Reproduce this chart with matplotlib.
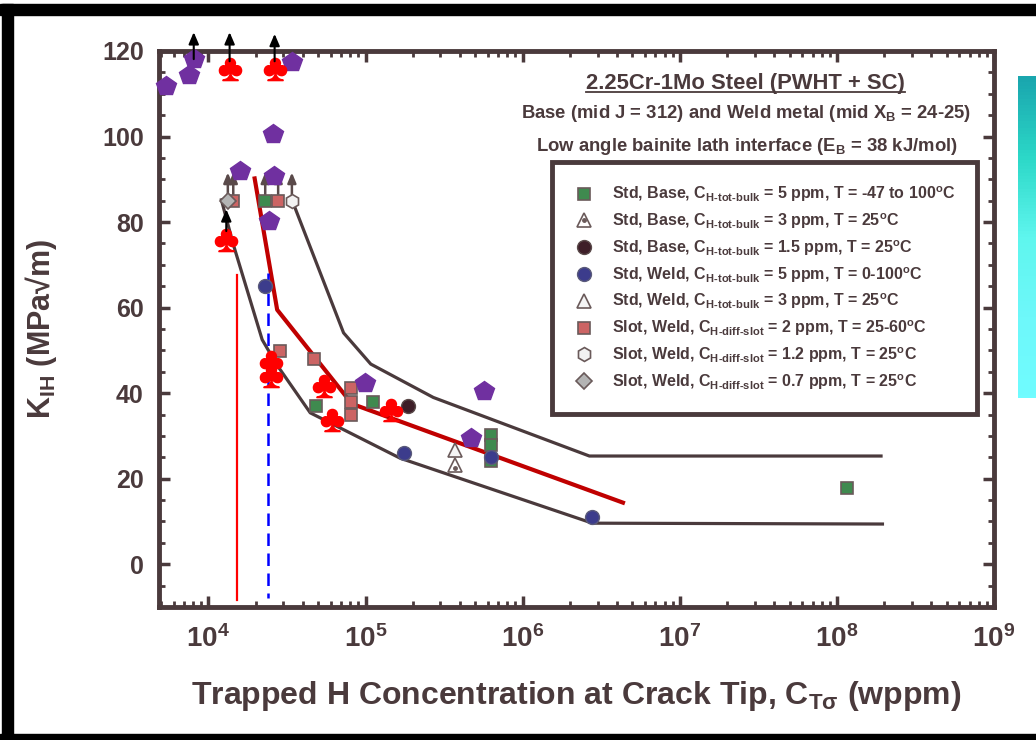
import matplotlib
matplotlib.use('Agg')
import numpy as np
import matplotlib.pyplot as plt
import matplotlib.ticker as mticker
from matplotlib.lines import Line2D
from matplotlib.patches import Rectangle
from matplotlib.colors import LinearSegmentedColormap
from matplotlib.legend_handler import HandlerTuple

plt.rcParams['font.family'] = ['Liberation Sans', 'DejaVu Sans']
plt.rcParams['font.weight'] = 'bold'
plt.rcParams['axes.labelweight'] = 'bold'
plt.rcParams['mathtext.fontset'] = 'custom'
plt.rcParams['mathtext.rm'] = 'Liberation Sans:bold'
plt.rcParams['mathtext.it'] = 'Liberation Sans:bold'
plt.rcParams['mathtext.bf'] = 'Liberation Sans:bold'
plt.rcParams['mathtext.sf'] = 'Liberation Sans:bold'

# ---- data ----
# Std, Base, 5 ppm (green squares)
grn_x = [23000, 48500, 112000, 633000, 633000, 633000, 1.16e8]
grn_y = [84.9, 37.1, 37.9, 30.2, 27.9, 24.2, 17.9]
# Std, Base, 3 ppm (triangle with dot)
tdot_x = [370000]
tdot_y = [23.2]
# Std, Base, 1.5 ppm (dark circle)
dark_x = [187000]
dark_y = [37.1]
# Std, Weld, 5 ppm (blue circles)
blu_x = [22800, 175000, 633000, 2.78e6]
blu_y = [65.0, 26.1, 25.1, 11.0]
# Std, Weld, 3 ppm (open triangle)
tri_x = [370000]
tri_y = [26.7]
# Slot, Weld, 2 ppm (red squares)
rsq_x = [14400, 27800, 28600, 47100, 80600, 80600, 80600]
rsq_y = [84.9, 84.9, 49.9, 48.0, 41.2, 38.0, 34.9]
# Slot, Weld, 1.2 ppm (hexagon)
hex_x = [34000]
hex_y = [84.9]
# Slot, Weld, 0.7 ppm (diamond)
dia_x = [13300]
dia_y = [84.9]
# purple pentagons
pent_x = [5410, 7500, 8070, 34300, 25600, 15800, 26200, 24200, 99300, 565000, 466000]
pent_y = [111.9, 114.4, 118.1, 117.5, 100.5, 91.9, 90.8, 80.2, 42.3, 40.5, 29.5]
# red clubs
club_x = [13650, 26400, 13000, 25000, 25000, 54700, 60900, 145000]
club_y = [115.8, 115.8, 75.7, 47.4, 43.9, 41.6, 33.7, 36.1]

# bounding curves
low_x = [12100, 14400, 22000, 27300, 44500, 166000, 2.78e6, 1.95e8]
low_y = [85.2, 74.8, 52.5, 46.6, 35.4, 24.8, 9.6, 9.4]
up_x = [34100, 72500, 108000, 270000, 2.66e6, 1.91e8]
up_y = [85.1, 54.1, 46.8, 39.0, 25.3, 25.3]
red_x = [19700, 27400, 82000, 4.35e6]
red_y = [90.2, 59.5, 37.5, 14.4]

# vertical markers
vred_x, vred_y = 15200, [67.7, -8.3]
vblu_x, vblu_y = 24000, [68.0, -8.0]

# arrows (x, y_start, y_end)
blk_arrows = [(8070, 118.1, 124.4), (13650, 117.6, 124.4), (26400, 117.6, 124.0), (13000, 77.9, 83.0)]
gry_arrows = [(13300, 86.1, 91.6), (14400, 86.1, 91.6), (23000, 86.1, 91.6),
              (27800, 86.1, 91.6), (34000, 86.1, 91.6)]

labels = [
    r'Std, Base, C$_{\text{H-tot-bulk}}$ = 5 ppm, T = -47 to 100$^{\text{o}}$C',
    r'Std, Base, C$_{\text{H-tot-bulk}}$ = 3 ppm, T = 25$^{\text{o}}$C',
    r'Std, Base, C$_{\text{H-tot-bulk}}$ = 1.5 ppm, T = 25$^{\text{o}}$C',
    r'Std, Weld, C$_{\text{H-tot-bulk}}$ = 5 ppm, T = 0-100$^{\text{o}}$C',
    r'Std, Weld, C$_{\text{H-tot-bulk}}$ = 3 ppm, T = 25$^{\text{o}}$C',
    r'Slot, Weld, C$_{\text{H-diff-slot}}$ = 2 ppm, T = 25-60$^{\text{o}}$C',
    r'Slot, Weld, C$_{\text{H-diff-slot}}$ = 1.2 ppm, T = 25$^{\text{o}}$C',
    r'Slot, Weld, C$_{\text{H-diff-slot}}$ = 0.7 ppm, T = 25$^{\text{o}}$C',
]

ink = '#4a3a3c'
edge = '#6a5a5a'

fig = plt.figure(figsize=(10.36, 7.4), dpi=100)
ax = fig.add_axes([159 / 1036, 1 - 607 / 740, 835 / 1036, 556 / 740])

# curves
ax.plot(low_x, low_y, color=ink, lw=2.3, zorder=2)
ax.plot(up_x, up_y, color=ink, lw=2.3, zorder=2)
ax.plot(red_x, red_y, color='#c00000', lw=3.0, zorder=2)
ax.plot([vred_x, vred_x], vred_y, color='#ff0000', lw=1.6, zorder=2)
ax.plot([vblu_x, vblu_x], vblu_y, color='#0000ff', lw=1.8, ls=(0, (5, 3)), zorder=2)

ms = 9
h_grn, = ax.plot(grn_x, grn_y, 's', ms=ms, mfc='#3f8a4f', mec=edge, mew=1.2, zorder=4)
h_tdot, = ax.plot(tdot_x, tdot_y, '^', ms=ms + 1, mfc='white', mec=edge, mew=1.2, zorder=4)
h_dot, = ax.plot(tdot_x, [v - 0.8 for v in tdot_y], 'o', ms=2.5, mfc=edge, mec=edge, zorder=5)
h_dark, = ax.plot(dark_x, dark_y, 'o', ms=ms + 1, mfc='#3e1e28', mec='#5a4a4a', mew=1.0, zorder=4)
h_blu, = ax.plot(blu_x, blu_y, 'o', ms=ms + 1, mfc='#3c3c8c', mec='#5a5a7a', mew=1.0, zorder=4)
h_tri, = ax.plot(tri_x, tri_y, '^', ms=ms + 1, mfc='#f4f4f4', mec=edge, mew=1.2, zorder=4)
h_rsq, = ax.plot(rsq_x, rsq_y, 's', ms=ms, mfc='#cc6464', mec=edge, mew=1.2, zorder=4)
h_hex, = ax.plot(hex_x, hex_y, 'h', ms=ms + 1, mfc='#f2f2f2', mec=edge, mew=1.2, zorder=4)
h_dia, = ax.plot(dia_x, dia_y, 'D', ms=ms - 1, mfc='#b4b4b4', mec=edge, mew=1.2, zorder=5)
ax.plot(pent_x, pent_y, 'p', ms=15, mfc='#7030a0', mec='#7030a0', zorder=6, clip_on=False)
ax.plot(club_x, club_y, ls='none', marker=r'$\clubsuit$', ms=16, color='#ff0000', zorder=6, clip_on=False)

for x, y0, y1 in blk_arrows:
    ax.annotate('', xy=(x, y1), xytext=(x, y0), annotation_clip=False,
                arrowprops=dict(arrowstyle='-|>,head_length=0.7,head_width=0.3',
                                color='black', lw=1.5, shrinkA=0, shrinkB=0), zorder=7)
for x, y0, y1 in gry_arrows:
    ax.annotate('', xy=(x, y1), xytext=(x, y0), annotation_clip=False,
                arrowprops=dict(arrowstyle='-|>,head_length=0.6,head_width=0.25',
                                color='#5a4a4a', lw=1.8, shrinkA=0, shrinkB=0), zorder=3)

ax.set_xscale('log')
ax.set_xlim(4850, 1e9)
ax.set_ylim(-10, 120)
ax.xaxis.set_major_locator(mticker.LogLocator(base=10, numticks=12))
ax.xaxis.set_minor_locator(mticker.LogLocator(base=10, subs=np.arange(2, 10), numticks=12))
ax.xaxis.set_major_formatter(mticker.FuncFormatter(lambda v, p: r'$10^{%d}$' % round(np.log10(v))))
ax.xaxis.set_minor_formatter(mticker.NullFormatter())
ax.yaxis.set_major_locator(mticker.MultipleLocator(20))
ax.yaxis.set_minor_locator(mticker.MultipleLocator(5))
ax.set_yticks([0, 20, 40, 60, 80, 100, 120])

for s in ax.spines.values():
    s.set_color(ink)
    s.set_linewidth(3.5)
ax.tick_params(which='both', direction='in', top=True, right=True, color=ink, labelcolor=ink)
ax.tick_params(which='major', length=8, width=2.5)
ax.tick_params(which='minor', length=4, width=2.0)
ax.tick_params(axis='y', labelsize=18, pad=11)
ax.tick_params(axis='x', labelsize=20, pad=13)

ax.set_xlabel(r'Trapped H Concentration at Crack Tip, C$_{\text{T}\sigma}$ (wppm)',
              fontsize=23, color=ink, fontweight='bold')
ax.xaxis.set_label_coords(0.5, -0.13)
ax.set_ylabel('K$_{\\text{IH}}$ (MPa\u221am)', fontsize=22, color=ink, fontweight='bold')
ax.yaxis.set_label_coords(-0.12, 0.5)

title = ax.text(0.702, 0.942, '2.25Cr-1Mo Steel (PWHT + SC)', transform=ax.transAxes,
                ha='center', va='center', fontsize=15.8, color=ink)
ax.text(0.7036, 0.887, r'Base (mid J = 312) and Weld metal (mid X$_{\text{B}}$ = 24-25)',
        transform=ax.transAxes, ha='center', va='center', fontsize=13.3, color=ink)
ax.text(0.704, 0.829, r'Low angle bainite lath interface (E$_{\text{B}}$ = 38 kJ/mol)',
        transform=ax.transAxes, ha='center', va='center', fontsize=13.3, color=ink)

handles = [h_grn, (h_tdot, h_dot), h_dark, h_blu, h_tri, h_rsq, h_hex, h_dia]
leg = ax.legend(handles, labels, loc='upper right', bbox_to_anchor=(0.980, 0.800),
                fontsize=11.5, frameon=True, fancybox=False, framealpha=1,
                edgecolor=ink, borderpad=1.4, labelspacing=0.45, handlelength=1.2,
                handletextpad=1.1, borderaxespad=0, numpoints=1,
                handler_map={tuple: HandlerTuple(ndivide=1, pad=0)})
leg.get_frame().set_linewidth(3.5)
for t in leg.get_texts():
    t.set_color(ink)

# outer black frame and cyan strip
fig.add_artist(Rectangle((0, 1 - 15 / 740), 1, 11 / 740, transform=fig.transFigure,
                         color='black', zorder=0))
fig.add_artist(Rectangle((2 / 1036, 0), 11 / 1036, 1 - 4 / 740, transform=fig.transFigure,
                         color='black', zorder=0))
fig.add_artist(Rectangle((0, 0), 1, 6 / 740, transform=fig.transFigure,
                         color='black', zorder=0))
cax = fig.add_axes([1018 / 1036, 1 - 398 / 740, 18 / 1036, 322 / 740])
cmap = LinearSegmentedColormap.from_list('cy', ['#1aa6ae', '#2cd8c8', '#5ff6ee', '#6ef8fa', '#70fcff'])
cax.imshow(np.linspace(0, 1, 100).reshape(-1, 1), aspect='auto', cmap=cmap)
cax.axis('off')

# underline the title
fig.canvas.draw()
bb = title.get_window_extent()
inv = fig.transFigure.inverted()
(x0, y0), (x1, _) = inv.transform([(bb.x0, bb.y0 + 2), (bb.x1, bb.y0)])
fig.add_artist(Line2D([x0, x1], [y0, y0], transform=fig.transFigure, color=ink, lw=1.3))

fig.savefig('out.png', dpi=100)
